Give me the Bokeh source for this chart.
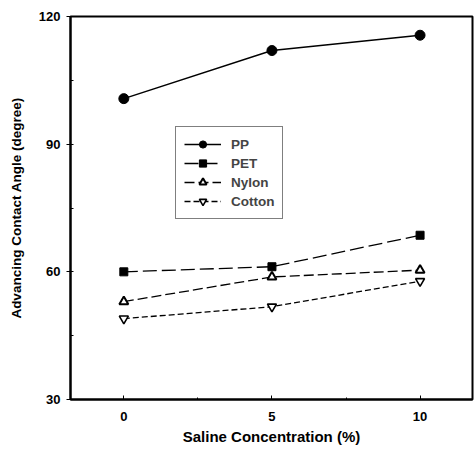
from bokeh.plotting import figure
from bokeh.models import Range1d, FixedTicker, Legend, LegendItem
from bokeh.embed import file_html
from bokeh.resources import INLINE

concentration = [0, 5, 10]
pp = [100.7, 112.0, 115.6]
pet = [60.0, 61.2, 68.6]
nylon = [53.0, 58.8, 60.4]
cotton = [49.0, 51.8, 57.8]

x_ticks = [0, 5, 10]
x_minor = [2.5, 7.5]
y_ticks = [30, 60, 90, 120]
y_minor = [45, 75, 105]

FONT = "Liberation Sans"

p = figure(width=474, height=457, output_backend="svg", toolbar_location=None,
           x_range=Range1d(-1.8, 11.77), y_range=Range1d(30, 120),
           min_border_left=70, min_border_right=2, min_border_top=16, min_border_bottom=58)
p.grid.visible = False
p.background_fill_color = "white"
p.border_fill_color = "white"
p.outline_line_color = "black"
p.outline_line_width = 2

for ax in (p.xaxis[0], p.yaxis[0]):
    ax.axis_line_width = 2
    ax.axis_line_color = "black"
    ax.major_label_text_font = FONT
    ax.major_label_text_font_style = "bold"
    ax.major_label_text_font_size = "13px"
    ax.axis_label_text_font = FONT
    ax.axis_label_text_font_style = "bold"
    ax.axis_label_text_color = "black"
    ax.major_label_text_color = "black"
    ax.major_tick_line_color = "black"
    ax.minor_tick_line_color = "black"

p.xaxis.ticker = FixedTicker(ticks=x_ticks, minor_ticks=x_minor)
p.yaxis.ticker = FixedTicker(ticks=y_ticks, minor_ticks=y_minor)
p.xaxis.major_tick_in = 4
p.xaxis.major_tick_out = 0
p.xaxis.minor_tick_in = 2
p.xaxis.minor_tick_out = 0
p.xaxis.major_label_standoff = 12
p.xaxis.axis_label = "Saline Concentration (%)"
p.xaxis.axis_label_text_font_size = "15px"
p.xaxis.axis_label_standoff = 4

p.yaxis.major_tick_in = 3
p.yaxis.major_tick_out = 4
p.yaxis.minor_tick_in = 3
p.yaxis.minor_tick_out = 0
p.yaxis.major_label_standoff = 6
p.yaxis.axis_label = "Advancing Contact Angle (degree)"
p.yaxis.axis_label_text_font_size = "13.5px"
p.yaxis.axis_label_standoff = 12

l1 = p.line(concentration, pp, line_color="black", line_width=1.5)
m1 = p.scatter(concentration, pp, marker="circle", size=10, fill_color="black", line_color="black")
l2 = p.line(concentration, pet, line_color="black", line_width=1.3, line_dash="14 5")
m2 = p.scatter(concentration, pet, marker="square", size=8, fill_color="black", line_color="black")
l3 = p.line(concentration, nylon, line_color="black", line_width=1.3, line_dash="10 4")
m3 = p.scatter(concentration, nylon, marker="triangle", size=9, fill_color="white", line_color="black", line_width=2)
l4 = p.line(concentration, cotton, line_color="black", line_width=1.3, line_dash="6 3")
m4 = p.scatter(concentration, cotton, marker="inverted_triangle", size=9, fill_color="white", line_color="black", line_width=1.6)

legend = Legend(items=[
    LegendItem(label="PP", renderers=[l1, m1]),
    LegendItem(label="PET", renderers=[l2, m2]),
    LegendItem(label="Nylon", renderers=[l3, m3]),
    LegendItem(label="Cotton", renderers=[l4, m4]),
], location=(105, 180))
legend.label_text_font = FONT
legend.label_text_font_style = "bold"
legend.label_text_font_size = "13.5px"
legend.glyph_width = 37
legend.glyph_height = 18
legend.label_height = 18
legend.label_standoff = 10
legend.spacing = 1
legend.padding = 8
legend.margin = 0
legend.border_line_color = "black"
legend.border_line_width = 1.2
legend.background_fill_alpha = 1
p.add_layout(legend, "center")

open("out.html", "w").write(file_html(p, INLINE))
